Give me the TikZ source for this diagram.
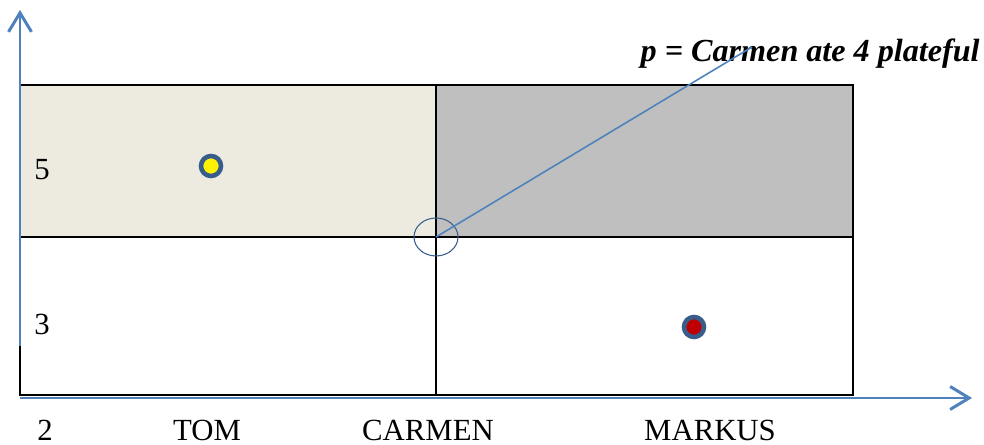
\documentclass[tikz,border=0pt]{standalone}
\usepackage{fontspec}
\setmainfont{Liberation Serif}
\usetikzlibrary{arrows.meta, positioning, shapes.geometric}
\definecolor{axisblue}{RGB}{79, 129, 189}
\definecolor{ringblue}{RGB}{56, 93, 138}
\definecolor{beige}{RGB}{237, 235, 224}
\definecolor{cellgray}{RGB}{191, 191, 191}
\definecolor{dotred}{RGB}{192, 0, 0}

\begin{document}
\begin{tikzpicture}[
  x=0.02cm, y=-0.02cm,
  every node/.style = {font=\fontsize{17.5}{20}\selectfont, inner sep=0pt},
  axis/.style = {draw=axisblue, line width=1.7pt,
    -{Straight Barb[length=0.38cm, width=0.46cm, line width=1.7pt]}},
  grid/.style = {draw=black, line width=1.1pt},
  dot/.style = {circle, draw=ringblue, line width=2.6pt, minimum size=0.4cm, fill=#1},
  lbl/.style = {anchor=base}
]
\useasboundingbox (0,0) rectangle (984,445);

% ---- CELLS ----
\fill[beige] (20,85) rectangle (436,237);
\fill[cellgray] (436,85) rectangle (853,237);
\draw[grid] (20,85) rectangle (853,395);
\draw[grid] (436,85) -- (436,395);
\draw[grid] (20,237) -- (853,237);

% ---- AXES ----
\coordinate (origin) at (20,346);
\coordinate (ytop) at (20,10);
\coordinate (xleft) at (20,398);
\coordinate (xright) at (972,398);
\draw[axis] (origin) -- (ytop);
\draw[axis] (xleft) -- (xright);

% ---- MARKED POINT p ----
\node[ellipse, draw=ringblue, line width=0.6pt, minimum width=0.88cm,
  minimum height=0.76cm] (mark) at (436,237) {};
\node[font=\fontsize{18.3}{20}\selectfont\bfseries\itshape, anchor=base east]
  (plab) at (980,62) {p = Carmen ate 4 plateful};
\coordinate (ptip) at (752,47);
\draw[axisblue, line width=0.9pt] (mark.center) -- (ptip);

% ---- DOTS ----
\node[dot=yellow] (tomdot) at (211,166) {};
\node[dot=dotred] (markdot) at (694,327) {};

% ---- LABELS ----
\node[lbl] (five)   at (42,180)  {5};
\node[lbl] (three)  at (42,335)  {3};
\node[lbl] (two)    at (45,441)  {2};
\node[lbl] (tom)    at (207,441) {TOM};
\node[lbl] (carmen) at (428,441) {CARMEN};
\node[lbl] (markus) at (710,441) {MARKUS};

\end{tikzpicture}
\end{document}
